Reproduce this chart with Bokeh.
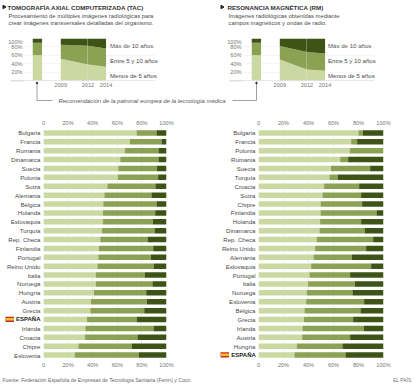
from bokeh.embed import file_html
from bokeh.resources import INLINE
from bokeh.plotting import figure
from bokeh.layouts import column
from bokeh.models import ColumnDataSource, FixedTicker, Range1d, Label, LinearAxis

series = ["Menos de 5 años", "Entre 5 y 10 años", "Más de 10 años"]
C = ["#cbd8a2", "#8ba254", "#3d5416"]
FONT = "Liberation Sans"
TXT = "#4a4a4a"

tac_countries = ["Bulgaria","Francia","Rumania","Dinamarca","Suecia","Polonia","Suiza","Alemania","Bélgica","Holanda","Eslovaquia","Turquía","Rep. Checa","Finlandia","Portugal","Reino Unido","Italia","Noruega","Hungría","Austria","Grecia","ESPAÑA","Irlanda","Croacia","Chipre","Eslovenia"]
tac_low = [75.7,70.3,66.2,62.4,60.8,60.5,51.9,49.5,48.6,48.4,48.4,47.6,46.2,45.1,44.6,43.8,42.4,42.4,41.1,38.6,38.1,35.4,34.0,33.8,28.4,25.4]
tac_mid = [16.2,25.7,27.3,31.1,31.4,32.7,39.1,38.3,43.3,42.4,40.5,42.7,38.4,44.1,42.7,45.9,39.8,46.2,42.4,45.4,43.8,40.3,55.5,42.7,43.5,52.2]
rm_countries = ["Bulgaria","Francia","Polonia","Rumania","Suecia","Turquía","Croacia","Suiza","Chipre","Finlandia","Holanda","Dinamarca","Rep. Checa","Reino Unido","Alemania","Eslovaquia","Portugal","Italia","Noruega","Eslovenia","Bélgica","Grecia","Irlanda","Austria","Hungría","ESPAÑA"]
rm_low = [80.0,74.1,73.0,65.3,57.9,56.8,52.5,51.2,49.6,49.6,49.3,48.8,46.7,45.3,44.0,42.1,40.8,39.7,38.7,38.1,36.8,36.3,35.2,34.9,30.7,28.8]
rm_mid = [3.5,4.8,27.0,6.4,31.4,6.7,28.0,30.9,33.3,44.8,32.8,36.2,45.0,40.8,30.7,48.0,32.5,37.3,36.5,46.4,44.8,39.4,49.1,38.4,36.5,40.8]

years = [2009, 2012, 2014]
tac_trend_low = [52, 38, 33]
tac_trend_mid = [33, 45, 43]
rm_trend_low = [50, 26, 23]
rm_trend_mid = [32, 42, 41]
tac_rec = [60, 30, 10]
rm_rec = [60, 30, 10]
pct_ticks = [20, 40, 60, 80, 100]
bar_ticks = [0, 20, 40, 60, 80, 100]
bar_labels = {0: "0", 20: "20%", 40: "40%", 60: "60%", 80: "80%", 100: "100%"}


def place(p, left, top):
    p.styles = {"position": "absolute", "left": f"{left}px", "top": f"{top}px"}
    return p


def clean(p):
    p.background_fill_color = None
    p.border_fill_color = None
    p.outline_line_color = None
    p.frame_align = False
    return p


def style_axis(ax, size="5.6px", color="#777777", standoff=2):
    ax.major_label_text_font = FONT
    ax.major_label_text_font_size = size
    ax.major_label_text_color = color
    ax.axis_line_color = None
    ax.major_tick_line_color = None
    ax.minor_tick_line_color = None
    ax.major_tick_in = 0
    ax.major_tick_out = 0
    ax.minor_tick_in = 0
    ax.minor_tick_out = 0
    ax.major_label_standoff = standoff


def page_text():
    p = figure(width=414, height=385, x_range=(0, 414), y_range=(385, 0), output_backend="svg",
               toolbar_location=None, min_border_left=0, min_border_right=0, min_border_top=0,
               min_border_bottom=0, x_axis_type=None, y_axis_type=None)
    clean(p)
    p.xgrid.visible = False
    p.ygrid.visible = False

    def t(x, y, s, size=6.6, color=TXT, style="normal", align="left"):
        p.add_layout(Label(x=x, y=y, text=s, text_font=FONT, text_font_size=f"{size}px", text_color=color,
                           text_font_style=style, text_align=align, text_baseline="middle"))

    t(7, 6.5, "TOMOGRAFÍA AXIAL COMPUTERIZADA (TAC)", 6.2, "#333333", "bold")
    t(8, 15, "Procesamiento de múltiples imágenes radiológicas para", 5.85)
    t(8, 22.5, "crear imágenes transversales detalladas del organismo.", 5.85)
    t(227, 6.5, "RESONANCIA MAGNÉTICA (RM)", 6.2, "#333333", "bold")
    t(228, 15, "Imágenes radiológicas obtenidas mediante", 5.85)
    t(228, 22.5, "campos magnéticos y ondas de radio.", 5.85)
    t(58, 100, "Recomendación de la patronal europea de la tecnología médica", 5.9, "#555555", "italic")
    t(2, 379.5, "Fuente: Federación Española de Empresas de Tecnología Sanitaria (Fenin) y Cocir.", 5.1, "#666666")
    t(411, 379, "EL PAÍS", 5.0, "#777777", align="right")
    for x0 in (109.5, 327.5):
        t(x0, 44.5, series[2], 6.1)
        t(x0, 59.5, series[1], 6.1)
        t(x0, 75, series[0], 6.1)
    # highlighted row of each bar panel: bold label and small flag
    for right, row_y, fx in ((40, 318.8, 5), (255.3, 354.3, 220)):
        t(right, row_y, "ESPAÑA", 6.0, "#222222", "bold", "right")
        p.quad(left=[fx], right=[fx + 8.5], top=[row_y - 2.6], bottom=[row_y + 2.6], fill_color="#c8281e", line_color=None)
        p.quad(left=[fx], right=[fx + 8.5], top=[row_y - 1.2], bottom=[row_y + 1.2], fill_color="#f2c22e", line_color=None)
    # baselines extending under the percentage labels
    p.line([10, 24], [80.3, 80.3], line_color="#bbbbbb", line_width=0.7)
    p.line([229, 243], [80.3, 80.3], line_color="#bbbbbb", line_width=0.7)
    # pointer lines of the recommendation note
    p.line([36.5, 36.5, 52], [83, 100, 100], line_color="#777777", line_width=0.7)
    p.line([232, 256, 256], [100, 100, 83], line_color="#777777", line_width=0.7)
    p.scatter([36.5, 256], [82.5, 82.5], marker="circle", size=1.6, color="#333333")
    p.scatter([3.5, 221.5], [6.5, 6.5], marker="triangle", size=3.5, angle=-1.5708, color="#222222")
    return p


def trend_chart(left, top, low, mid, rec):
    """Top panels: a recommendation bar plus the stacked area 2009-2014."""
    px_per_year = 9.05
    p = figure(frame_width=131, frame_height=42,
               x_range=(2009 - 36.3 / px_per_year, 2009 + 94.7 / px_per_year), y_range=(0, 100),
               output_backend="svg", toolbar_location=None, min_border_left=24, min_border_right=0,
               min_border_top=0, min_border_bottom=11)
    clean(p)
    p.xaxis.ticker = FixedTicker(ticks=years)
    p.yaxis.ticker = FixedTicker(ticks=pct_ticks)
    p.yaxis.major_label_overrides = {v: f"{v}%" for v in pct_ticks}
    style_axis(p.xaxis[0], "5.6px", standoff=2)
    style_axis(p.yaxis[0], "5.6px", standoff=2)
    p.xgrid.ticker = FixedTicker(ticks=[2012])
    p.xgrid.grid_line_color = "#e4e9d6"
    p.xgrid.grid_line_alpha = 0.35
    p.xgrid.level = "overlay"
    p.ygrid.ticker = FixedTicker(ticks=[20, 40, 60, 80])
    p.ygrid.grid_line_color = "#dddddd"
    p.ygrid.grid_line_dash = "1 1"
    p.ygrid.grid_line_width = 0.6
    l2 = [a + b for a, b in zip(low, mid)]
    top_v = [100 for _ in years]
    zero = [0 for _ in years]
    p.varea(x=years, y1=zero, y2=low, fill_color=C[0])
    p.varea(x=years, y1=low, y2=l2, fill_color=C[1])
    p.varea(x=years, y1=l2, y2=top_v, fill_color=C[2])
    cum = 0
    for v, c in zip(rec, C):
        p.vbar(x=[2009 - 23.4 / px_per_year], width=9.3 / px_per_year, bottom=[cum], top=[cum + v],
               fill_color=c, line_color=None)
        cum += v
    p.hspan(y=[0], line_color="#bbbbbb", line_width=0.7)
    return place(p, left, top)


def bars(left, top, frame_w, border_left, countries, low, mid):
    n = len(countries)
    pos = [n - 1 - i for i in range(n)]
    high = [round(100 - a - b, 1) for a, b in zip(low, mid)]
    src = ColumnDataSource(dict(y=pos, low=low, mid=mid, high=high))
    p = figure(frame_width=frame_w, frame_height=231, x_range=Range1d(0, 100),
               y_range=Range1d(-0.5, n - 0.5),
               output_backend="svg", toolbar_location=None,
               min_border_left=border_left, min_border_right=12, min_border_top=13, min_border_bottom=13)
    clean(p)
    p.hbar_stack(["low", "mid", "high"], y="y", height=0.62, color=C, source=src, line_color=None)
    p.xaxis.ticker = FixedTicker(ticks=bar_ticks)
    p.xaxis.major_label_overrides = bar_labels
    style_axis(p.xaxis[0], "5.6px", standoff=2)
    p.yaxis.ticker = FixedTicker(ticks=pos)
    p.yaxis.major_label_overrides = {y: (" " if c == "ESPAÑA" else c) for y, c in zip(pos, countries)}
    style_axis(p.yaxis[0], "6.1px", "#4a4a4a", standoff=3)
    ax2 = LinearAxis(ticker=FixedTicker(ticks=bar_ticks), major_label_overrides=bar_labels)
    style_axis(ax2, "5.6px", standoff=3)
    p.add_layout(ax2, "above")
    p.ygrid.visible = False
    p.xgrid.ticker = FixedTicker(ticks=[20, 40, 60, 80])
    p.xgrid.grid_line_color = "#cccccc"
    p.xgrid.grid_line_dash = "1 1"
    p.xgrid.grid_line_width = 0.6
    return place(p, left, top)


parts = [
    place(page_text(), 0, 0),
    trend_chart(0, 38, tac_trend_low, tac_trend_mid, tac_rec),
    trend_chart(219, 38, rm_trend_low, rm_trend_mid, rm_rec),
    bars(0, 115, 123, 43, tac_countries, tac_low, tac_mid),
    bars(208, 115, 125, 50, rm_countries, rm_low, rm_mid),
]

root = column(*parts, width=414, height=385, sizing_mode="fixed")
root.styles = {"position": "absolute", "left": "0px", "top": "0px"}
open("out.html", "w").write(file_html(root, INLINE))
